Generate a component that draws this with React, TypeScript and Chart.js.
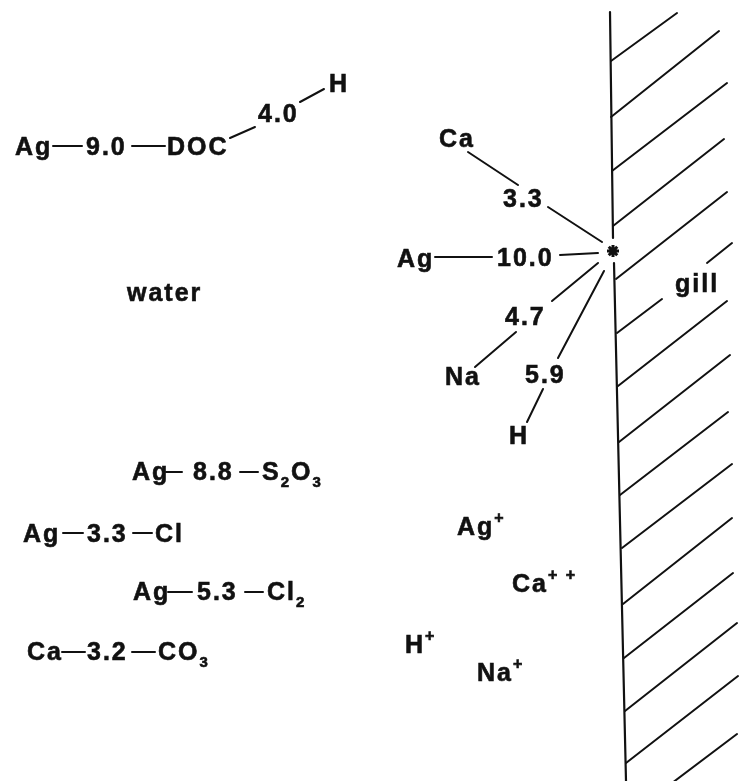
import React, { useEffect, useRef } from "react";
import { Chart, registerables } from "chart.js";

Chart.register(...registerables);

const CANVAS_W = 740;
const CANVAS_H = 781;

// Gill wall (vertical line) segments, broken at the binding site
const wallSegments: number[][][] = [
  [[610, 12], [613, 238]],
  [[614, 263], [626, 781]],
];

// Hatching on the gill side
const hatchSegments: number[][][] = [
  [[611, 61], [677, 13]],
  [[611, 117], [719, 31]],
  [[612, 171], [727, 83]],
  [[613, 226], [724, 139]],
  [[616, 279], [727, 192]],
  [[617, 333], [662, 299]],
  [[707, 263], [732, 243]],
  [[618, 386], [727, 301]],
  [[619, 442], [730, 355]],
  [[620, 495], [728, 412]],
  [[622, 548], [732, 464]],
  [[623, 604], [732, 518]],
  [[624, 658], [733, 573]],
  [[625, 711], [737, 623]],
  [[626, 763], [738, 676]],
  [[627, 817], [737, 734]],
];

// Bond lines (Ag-DOC-H chain, gill-site bonds, formula dashes)
const bondSegments: number[][][] = [
  [[53, 146], [82, 146]],
  [[132, 146], [165, 146]],
  [[230, 138], [255, 127]],
  [[300, 102], [324, 89]],
  [[468, 152], [518, 185]],
  [[548, 207], [602, 242]],
  [[435, 257], [492, 257]],
  [[560, 255], [598, 253]],
  [[598, 263], [552, 301]],
  [[516, 332], [475, 367]],
  [[604, 271], [558, 358]],
  [[543, 389], [527, 422]],
  [[166, 472], [182, 472]],
  [[240, 472], [258, 472]],
  [[63, 533], [83, 533]],
  [[133, 533], [152, 533]],
  [[168, 592], [192, 592]],
  [[245, 592], [263, 592]],
  [[62, 652], [85, 652]],
  [[132, 652], [155, 652]],
];

// Binding site on the gill
const sitePoint = [{ x: 613, y: 251 }];

// Text labels: text (with _sub / ^sup markup), left x, baseline y
const labelTexts = [
  "Ag", "9.0", "DOC", "4.0", "H",
  "Ca", "3.3", "Ag", "10.0", "4.7", "Na", "5.9", "H",
  "water", "gill",
  "Ag", "8.8", "S_2O_3",
  "Ag", "3.3", "Cl",
  "Ag", "5.3", "Cl_2",
  "Ca", "3.2", "CO_3",
  "Ag^+", "Ca^{+ +}", "H^+", "Na^+",
];
const labelX = [
  15, 86, 167, 258, 329,
  439, 503, 397, 497, 505, 445, 525, 509,
  127, 675,
  132, 193, 262,
  23, 87, 155,
  133, 197, 267,
  27, 87, 158,
  457, 512, 405, 477,
];
const labelY = [
  155, 155, 155, 122, 92,
  147, 207, 267, 266, 325, 385, 383, 444,
  301, 292,
  480, 480, 480,
  542, 542, 542,
  600, 600, 600,
  660, 660, 660,
  535, 592, 653, 681,
];

type Seg = { t: string; k: "n" | "sub" | "sup" };

function parseRich(s: string): Seg[] {
  const out: Seg[] = [];
  let buf = "";
  let i = 0;
  while (i < s.length) {
    const c = s[i];
    if (c === "_" || c === "^") {
      if (buf) { out.push({ t: buf, k: "n" }); buf = ""; }
      let t = "";
      if (s[i + 1] === "{") {
        const end = s.indexOf("}", i + 2);
        t = s.slice(i + 2, end);
        i = end + 1;
      } else {
        t = s[i + 1];
        i += 2;
      }
      out.push({ t, k: c === "_" ? "sub" : "sup" });
    } else {
      buf += c;
      i++;
    }
  }
  if (buf) out.push({ t: buf, k: "n" });
  return out;
}

const FONT_FAMILY = '"Liberation Sans", Arial, Helvetica, sans-serif';

const labelPlugin = {
  id: "diagramLabels",
  afterDatasetsDraw(chart: any) {
    const ctx = chart.ctx as CanvasRenderingContext2D;
    const xs = chart.scales.x;
    const ys = chart.scales.y;
    ctx.save();
    ctx.fillStyle = "#111";
    ctx.strokeStyle = "#111";
    ctx.lineWidth = 0.6;
    ctx.textAlign = "left";
    ctx.textBaseline = "alphabetic";
    (ctx as any).letterSpacing = "2px";
    labelTexts.forEach((txt, i) => {
      let x = xs.getPixelForValue(labelX[i]);
      const y = ys.getPixelForValue(labelY[i]);
      parseRich(txt).forEach((seg) => {
        let dy = 0;
        if (seg.k === "n") {
          ctx.font = `bold 25px ${FONT_FAMILY}`;
        } else if (seg.k === "sub") {
          ctx.font = `bold 15px ${FONT_FAMILY}`;
          dy = 7;
        } else {
          ctx.font = `bold 16px ${FONT_FAMILY}`;
          dy = -12;
        }
        ctx.fillText(seg.t, x, y + dy);
        ctx.strokeText(seg.t, x, y + dy);
        x += ctx.measureText(seg.t).width;
      });
    });
    ctx.restore();
  },
};

function segDataset(seg: number[][], width: number) {
  return {
    type: "line" as const,
    data: seg.map(([x, y]) => ({ x, y })),
    showLine: true,
    borderColor: "#111",
    borderWidth: width,
    pointRadius: 0,
    borderCapStyle: "round" as const,
    fill: false,
    tension: 0,
  };
}

export default function App() {
  const canvasRef = useRef<HTMLCanvasElement | null>(null);

  useEffect(() => {
    if (!canvasRef.current) return;
    const datasets: any[] = [
      ...wallSegments.map((s) => segDataset(s, 2.2)),
      ...hatchSegments.map((s) => segDataset(s, 2)),
      ...bondSegments.map((s) => segDataset(s, 2)),
      {
        type: "scatter",
        data: sitePoint,
        pointStyle: "star",
        pointRadius: 6,
        borderColor: "#111",
        backgroundColor: "#111",
        pointBorderWidth: 3,
        borderWidth: 3,
      },
    ];
    const chart = new Chart(canvasRef.current, {
      type: "scatter",
      data: { datasets },
      options: {
        animation: false,
        responsive: false,
        maintainAspectRatio: false,
        layout: { padding: 0, autoPadding: false },
        events: [],
        plugins: { legend: { display: false }, tooltip: { enabled: false } },
        scales: {
          x: { type: "linear", min: 0, max: CANVAS_W, display: false },
          y: { type: "linear", min: 0, max: CANVAS_H, reverse: true, display: false },
        },
      },
      plugins: [labelPlugin],
    } as any);
    return () => chart.destroy();
  }, []);

  return (
    <div style={{ position: "fixed", left: 0, top: 0, width: CANVAS_W, height: CANVAS_H, background: "#fff" }}>
      <canvas ref={canvasRef} width={CANVAS_W} height={CANVAS_H} />
    </div>
  );
}
